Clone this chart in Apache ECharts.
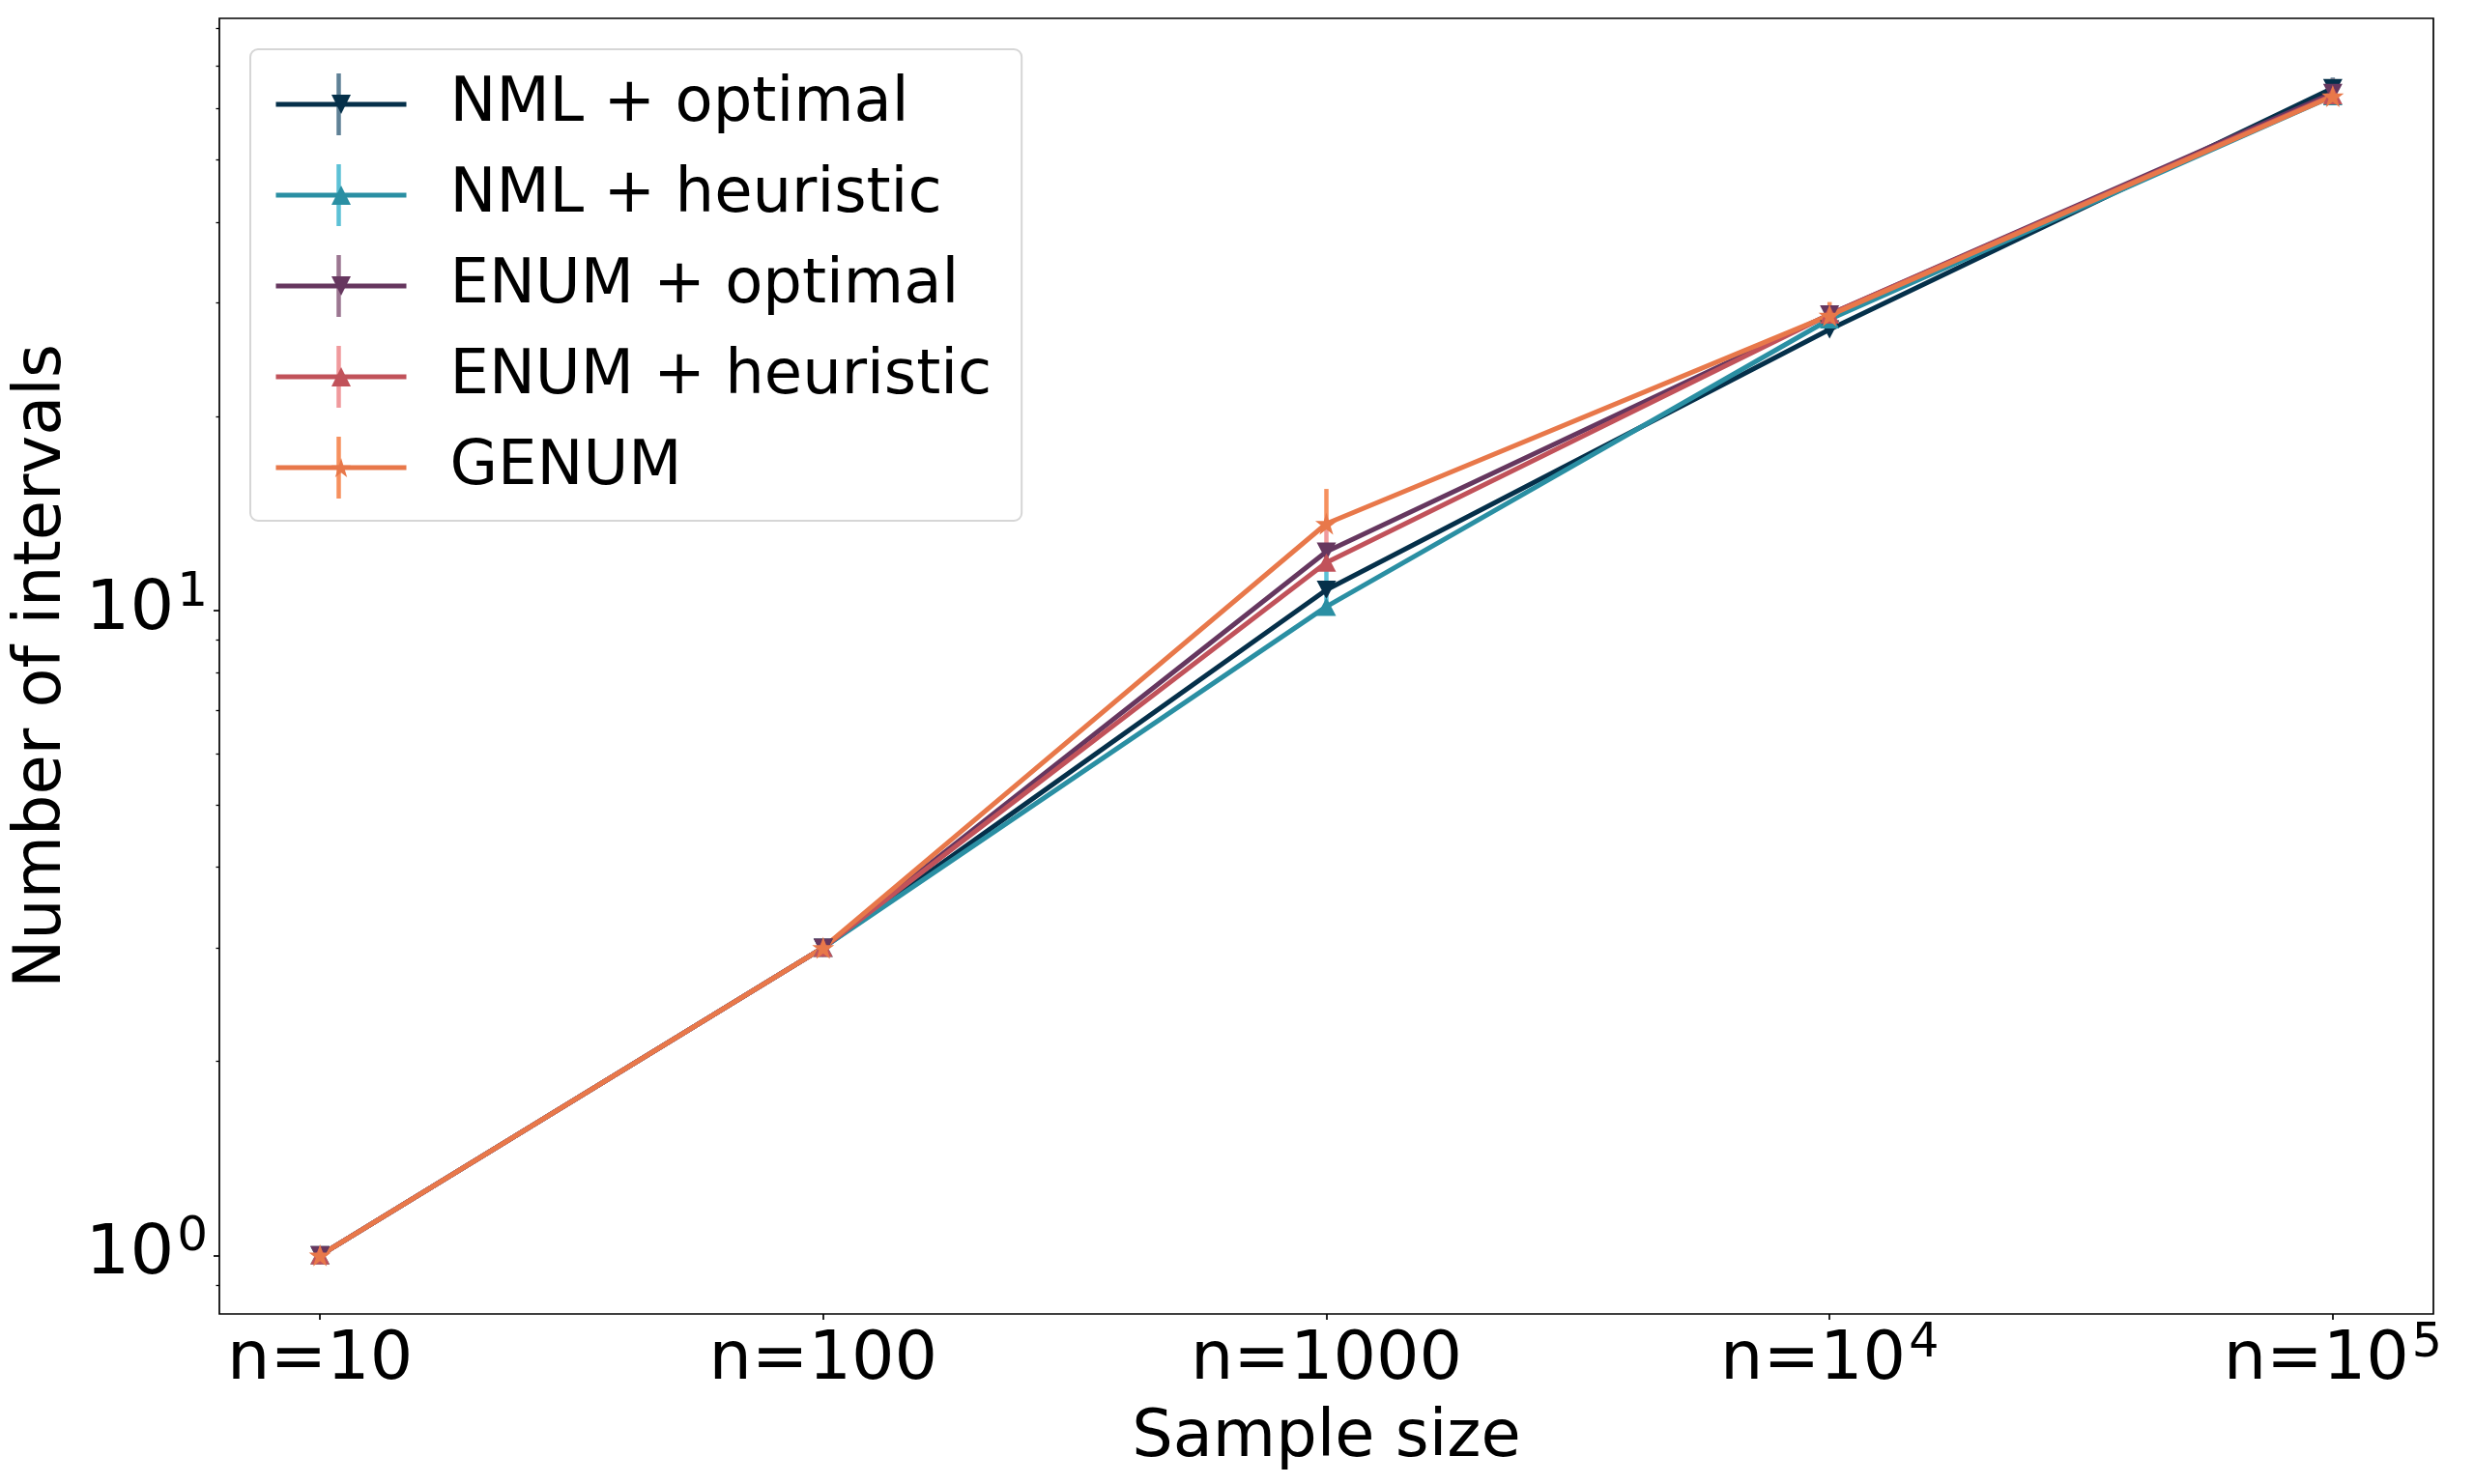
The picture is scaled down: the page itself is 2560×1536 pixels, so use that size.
<!DOCTYPE html>
<html>
<head>
<meta charset="utf-8">
<script src="https://cdn.jsdelivr.net/npm/echarts@6/dist/echarts.min.js"></script>
<style>html,body{margin:0;padding:0;background:#fff}#c{width:2560px;height:1536px}</style>
</head>
<body>
<div id="c"></div>
<script>
// ---- data ----
const categories = ['n=10', 'n=100', 'n=1000', 'n=10^4', 'n=10^5'];
const xTickBase = ['n=10', 'n=100', 'n=1000', 'n=10', 'n=10'];
const xTickExp = ['', '', '', '4', '5'];
const yTickValues = [1, 10];
const yTickBase = ['10', '10'];
const yTickExp = ['0', '1'];
const yMinorTicks = [0.9, 2, 3, 4, 5, 6, 7, 8, 9, 20, 30, 40, 50, 60, 70, 80];
const seriesNames = ['NML + optimal', 'NML + heuristic', 'ENUM + optimal', 'ENUM + heuristic', 'GENUM'];
const nmlOptimal = [1, 3, 10.77, 27.3, 64.6];
const nmlHeuristic = [1, 3, 10.14, 28.3, 62.8];
const enumOptimal = [1, 3, 12.34, 28.8, 63.5];
const enumHeuristic = [1, 3, 11.87, 28.8, 63.0];
const genum = [1, 3, 13.64, 28.7, 62.8];
const nmlOptimalErr = [0, 0, 0.3, 0.3, 2.5];
const nmlHeuristicErr = [0, 0, 1.7, 0.3, 0.4];
const enumOptimalErr = [0, 0, 0.4, 0.4, 0.5];
const enumHeuristicErr = [0, 0, 1.9, 0.4, 3.8];
const genumErr = [0, 0, 1.8, 1.4, 0.5];

// ---- styles ----
const FONT = 'DejaVu Sans';
const lineColors = ['#05304a', '#2a8fa3', '#66375f', '#c1525a', '#e8784a'];
const errColors = ['#5f8196', '#5cc1d6', '#9b7691', '#f0999c', '#f6905e'];
const STAR = 'path://M0,-1 L0.224,-0.308 L0.951,-0.309 L0.362,0.118 L0.588,0.809 L0,0.381 L-0.588,0.809 L-0.362,0.118 L-0.951,-0.309 L-0.224,-0.308 Z';
const symbols = ['triangle', 'triangle', 'triangle', 'triangle', STAR];
const rotations = [180, 0, 180, 0, 0];
const symSizes = [[20, 19], [20, 19], [20, 19], [20, 19], [23, 23]];
const values = [nmlOptimal, nmlHeuristic, enumOptimal, enumHeuristic, genum];
const errs = [nmlOptimalErr, nmlHeuristicErr, enumOptimalErr, enumHeuristicErr, genumErr];

const gridL = 227, gridT = 19, gridR = 2518, gridB = 1360;

const series = [];
values.forEach((vals, i) => {
  series.push({
    type: 'custom',
    name: seriesNames[i] + ' err',
    z: 1,
    silent: true,
    data: vals.map((v, k) => [k, v, v + errs[i][k]]),
    renderItem: function (params, api) {
      const p0 = api.coord([api.value(0), api.value(1)]);
      const p1 = api.coord([api.value(0), api.value(2)]);
      return {
        type: 'line',
        shape: { x1: p0[0], y1: p0[1], x2: p1[0], y2: p1[1] },
        style: { stroke: errColors[i], lineWidth: 4.5 }
      };
    }
  });
});
values.forEach((vals, i) => {
  series.push({
    type: 'line',
    name: seriesNames[i],
    z: 2,
    data: vals.map((v, k) => [k, v]),
    symbol: symbols[i],
    symbolRotate: rotations[i],
    symbolSize: symSizes[i],
    showSymbol: true,
    lineStyle: { color: lineColors[i], width: 5 },
    itemStyle: { color: lineColors[i] },
    emphasis: { disabled: true }
  });
});

// legend error bar glyphs (behind the legend icons)
const legLeft = 259, legTop = 51, legPadT = 20, legPadL = 24, iconW = 135, rowH = 74, rowGap = 20;
const graphics = seriesNames.map((n, i) => {
  const cy = legTop + legPadT + rowH / 2 + i * (rowH + rowGap);
  const cx = legLeft + legPadL + iconW / 2;
  return {
    type: 'line', z: 1,
    shape: { x1: cx, y1: cy - 32, x2: cx, y2: cy + 32 },
    style: { stroke: errColors[i], lineWidth: 4.5 }
  };
});

const chart = echarts.init(document.getElementById('c'), null, { renderer: 'canvas' });
chart.setOption({
  animation: false,
  backgroundColor: '#fff',
  textStyle: { fontFamily: FONT },
  grid: {
    left: gridL, top: gridT, right: 2560 - gridR, bottom: 1536 - gridB,
    show: true, borderColor: '#000', borderWidth: 1.7, backgroundColor: 'transparent'
  },
  xAxis: {
    type: 'value', min: -0.2, max: 4.2,
    name: 'Sample size', nameLocation: 'middle', nameGap: 82,
    nameTextStyle: { fontFamily: FONT, fontSize: 67, color: '#000', lineHeight: 67, verticalAlign: 'top' },
    axisLine: { show: false, onZero: false },
    splitLine: { show: false },
    axisTick: { show: true, customValues: [0, 1, 2, 3, 4], length: 6, lineStyle: { color: '#000', width: 1.7 } },
    axisLabel: {
      customValues: [0, 1, 2, 3, 4],
      margin: 12,
      formatter: function (v) {
        const k = Math.round(v);
        return '{m|' + xTickBase[k] + '}' + (xTickExp[k] ? '{s|' + xTickExp[k] + '}' : '');
      },
      rich: {
        m: { fontFamily: FONT, fontSize: 70, color: '#000', lineHeight: 74 },
        s: { fontFamily: FONT, fontSize: 49, color: '#000', lineHeight: 22, padding: [0, 0, 36, 3] }
      }
    }
  },
  yAxis: [{
    type: 'log', logBase: 10, min: 0.811, max: 82.9,
    name: 'Number of intervals', nameLocation: 'middle', nameGap: 137,
    nameTextStyle: { fontFamily: FONT, fontSize: 67, color: '#000' },
    axisLine: { show: false, onZero: false },
    splitLine: { show: false },
    minorTick: { show: false },
    axisTick: { show: true, customValues: yTickValues, length: 6, lineStyle: { color: '#000', width: 1.7 } },
    axisLabel: {
      customValues: yTickValues,
      margin: 12,
      formatter: function (v) {
        const k = yTickValues.findIndex(t => Math.abs(t - v) < 1e-6);
        if (k < 0) return '';
        return '{m|' + yTickBase[k] + '}{s|' + yTickExp[k] + '}';
      },
      rich: {
        m: { fontFamily: FONT, fontSize: 72, color: '#000', lineHeight: 76 },
        s: { fontFamily: FONT, fontSize: 50, color: '#000', lineHeight: 22, padding: [0, 0, 36, 3] }
      }
    }
  }, {
    type: 'log', logBase: 10, min: 0.811, max: 82.9, position: 'left',
    axisLine: { show: false, onZero: false }, splitLine: { show: false },
    axisTick: { show: true, customValues: yMinorTicks, length: 3.5, lineStyle: { color: '#000', width: 1.3 } },
    axisLabel: { show: false }
  }],
  legend: {
    orient: 'vertical',
    left: legLeft, top: legTop,
    padding: [legPadT, 31, 18, legPadL],
    itemWidth: iconW, itemHeight: 25, itemGap: rowGap,
    borderColor: '#d6d6d6', borderWidth: 2, borderRadius: 8,
    backgroundColor: 'transparent',
    z: 4,
    data: seriesNames,
    selectedMode: false,
    lineStyle: { width: 5 },
    textStyle: { fontFamily: FONT, fontSize: 64, color: '#000', lineHeight: rowH, padding: [0, 0, 0, 40] }
  },
  graphic: graphics,
  series: series
});
</script>
</body>
</html>
